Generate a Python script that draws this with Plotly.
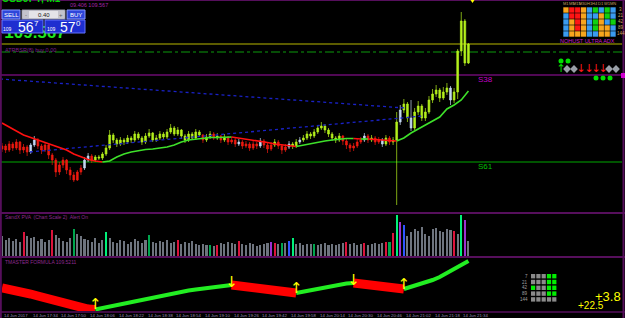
import plotly.graph_objects as go

W, H = 625, 318


def PX(x):
    return x / W


def PY(y):
    return 1 - y / H


# ---------------- data ----------------
bar_minutes = list(range(0, 262, 2))          # minutes after 17:18, one bar per 2 minutes
first_open = 109.462
close = [109.465, 109.461, 109.467, 109.463, 109.469, 109.461, 109.464, 109.459, 109.466, 109.471,
         109.465, 109.461, 109.466, 109.456, 109.451, 109.439, 109.446, 109.451, 109.441, 109.436,
         109.431, 109.439, 109.443, 109.451, 109.455, 109.451, 109.454, 109.453, 109.457, 109.463,
         109.476, 109.471, 109.467, 109.471, 109.469, 109.473, 109.471, 109.477, 109.473, 109.469,
         109.475, 109.478, 109.471, 109.473, 109.477, 109.474, 109.479, 109.483, 109.477, 109.481,
         109.475, 109.471, 109.477, 109.473, 109.479, 109.476, 109.471, 109.474, 109.477, 109.473,
         109.475, 109.471, 109.474, 109.469, 109.471, 109.467, 109.469, 109.465, 109.467, 109.463,
         109.467, 109.465, 109.470, 109.466, 109.462, 109.466, 109.469, 109.465, 109.461, 109.464,
         109.467, 109.465, 109.469, 109.471, 109.473, 109.477, 109.475, 109.479, 109.483, 109.485,
         109.481, 109.477, 109.473, 109.471, 109.475, 109.470, 109.466, 109.463, 109.465, 109.469,
         109.471, 109.475, 109.471, 109.473, 109.469, 109.471, 109.467, 109.473, 109.469, 109.471,
         109.489, 109.501, 109.507, 109.493, 109.483, 109.499, 109.505, 109.493, 109.499, 109.511,
         109.517, 109.521, 109.513, 109.519, 109.523, 109.511, 109.519, 109.560, 109.590, 109.548,
         109.567]
high = [109.468, 109.467, 109.470, 109.469, 109.472, 109.470, 109.467, 109.466, 109.468, 109.475,
        109.473, 109.467, 109.469, 109.467, 109.458, 109.453, 109.449, 109.454, 109.452, 109.444,
        109.439, 109.441, 109.446, 109.454, 109.458, 109.457, 109.456, 109.456, 109.459, 109.466,
        109.481, 109.478, 109.473, 109.474, 109.473, 109.476, 109.475, 109.480, 109.479, 109.475,
        109.478, 109.482, 109.479, 109.476, 109.480, 109.479, 109.482, 109.487, 109.485, 109.484,
        109.482, 109.477, 109.480, 109.479, 109.482, 109.481, 109.477, 109.477, 109.480, 109.479,
        109.478, 109.476, 109.477, 109.475, 109.474, 109.473, 109.472, 109.471, 109.470, 109.469,
        109.470, 109.469, 109.473, 109.472, 109.468, 109.469, 109.472, 109.471, 109.467, 109.467,
        109.470, 109.469, 109.472, 109.474, 109.476, 109.480, 109.479, 109.482, 109.486, 109.489,
        109.487, 109.483, 109.479, 109.475, 109.478, 109.476, 109.472, 109.468, 109.468, 109.472,
        109.474, 109.478, 109.477, 109.476, 109.475, 109.474, 109.473, 109.476, 109.475, 109.474,
        109.499, 109.506, 109.512, 109.509, 109.511, 109.503, 109.510, 109.507, 109.503, 109.515,
        109.522, 109.526, 109.523, 109.524, 109.528, 109.525, 109.523, 109.562, 109.599, 109.592,
        109.568]
low = [109.459, 109.458, 109.459, 109.460, 109.461, 109.457, 109.458, 109.455, 109.457, 109.464,
       109.462, 109.457, 109.459, 109.452, 109.446, 109.434, 109.436, 109.443, 109.437, 109.431,
       109.429, 109.430, 109.436, 109.441, 109.449, 109.448, 109.449, 109.451, 109.451, 109.455,
       109.461, 109.468, 109.464, 109.465, 109.466, 109.467, 109.468, 109.469, 109.471, 109.466,
       109.467, 109.473, 109.469, 109.469, 109.471, 109.472, 109.472, 109.477, 109.475, 109.475,
       109.472, 109.468, 109.469, 109.471, 109.471, 109.474, 109.468, 109.469, 109.472, 109.471,
       109.471, 109.468, 109.469, 109.466, 109.467, 109.464, 109.465, 109.462, 109.463, 109.460,
       109.461, 109.462, 109.463, 109.463, 109.458, 109.460, 109.464, 109.462, 109.457, 109.459,
       109.462, 109.462, 109.463, 109.467, 109.469, 109.471, 109.472, 109.473, 109.477, 109.481,
       109.478, 109.474, 109.470, 109.468, 109.469, 109.466, 109.462, 109.459, 109.460, 109.463,
       109.467, 109.469, 109.468, 109.469, 109.466, 109.467, 109.464, 109.465, 109.466, 109.466,
       109.406, 109.486, 109.498, 109.489, 109.480, 109.481, 109.496, 109.490, 109.490, 109.497,
       109.508, 109.514, 109.509, 109.511, 109.516, 109.506, 109.508, 109.512, 109.555, 109.545,
       109.547]
light_bars = [8, 9, 23, 24, 66, 72, 80, 83, 101, 106, 111, 114, 125]

volume = [20, 16, 18, 15, 17, 14, 24, 20, 18, 19,
          15, 17, 14, 16, 26, 21, 18, 15, 14, 18,
          27, 22, 20, 17, 16, 14, 18, 13, 16, 24,
          18, 14, 13, 16, 15, 12, 14, 17, 15, 13,
          16, 21, 14, 13, 15, 14, 16, 13, 14, 16,
          12, 14, 13, 15, 12, 11, 12, 11, 11, 10,
          11, 13, 12, 14, 13, 12, 15, 12, 11, 13,
          12, 10, 11, 12, 13, 14, 13, 12, 13, 13,
          15, 18, 12, 13, 11, 12, 12, 12, 11, 12,
          13, 11, 12, 11, 12, 13, 14, 12, 13, 11,
          12, 13, 11, 12, 13, 12, 13, 14, 14, 23,
          41, 34, 31, 20, 24, 27, 25, 29, 22, 20,
          27, 28, 25, 24, 27, 26, 25, 22, 41, 36,
          15]
vol_kind = {6: "down", 14: "down", 20: "up", 29: "climax", 41: "up", 49: "down", 58: "up",
            60: "down", 66: "down", 75: "churn", 76: "down", 78: "up", 80: "blue", 81: "climax",
            87: "up", 96: "down", 101: "down", 107: "down", 108: "up", 109: "down",
            110: "climax", 111: "churn", 112: "blue", 126: "down", 128: "climax", 129: "churn"}

ma_minutes = list(range(0, 262, 4))
ma = [109.488, 109.484, 109.480, 109.476, 109.4735, 109.471, 109.469, 109.466, 109.4635, 109.461,
      109.457, 109.454, 109.4515, 109.450, 109.449, 109.450, 109.454, 109.457, 109.459, 109.4605,
      109.4615, 109.462, 109.463, 109.464, 109.466, 109.469, 109.471, 109.472, 109.473, 109.4735,
      109.4735, 109.474, 109.474, 109.473, 109.472, 109.471, 109.470, 109.4685, 109.467, 109.466,
      109.465, 109.4645, 109.466, 109.467, 109.4685, 109.470, 109.471, 109.472, 109.4725, 109.4725,
      109.472, 109.472, 109.4715, 109.471, 109.4705, 109.470, 109.473, 109.478, 109.482, 109.486,
      109.490, 109.494, 109.502, 109.506, 109.511, 109.520]
osc = [23, 22, 20.5, 18.5, 17, 15, 13, 11, 9, 7,
       5, 3.5, 2, 1.5, 3, 5, 6.5, 8, 9.5, 11,
       12.5, 14, 15, 16, 17.5, 19, 20.5, 21.5, 22.5, 23.5,
       24.5, 25, 26, 25, 24.5, 24, 23, 22.5, 21.5, 20.5,
       19.5, 18, 19.5, 20.5, 21.5, 23, 25, 26.5, 27.5, 28,
       27, 26, 25, 24.5, 24, 23, 22, 24, 26, 28,
       31, 34, 38, 42, 46, 50]

trend_a_x = [-1.1, 224.6]
trend_a_y = [109.532, 109.503]
trend_b_x = [15.6, 234.7]
trend_b_y = [109.459, 109.495]

bid_line = 109.567
ask_line = 109.559
s38_level = 109.536
s61_level = 109.449

tick_minutes = list(range(0, 257, 16))
tick_labels = ["14 Jun 2017", "14 Jun 17:34", "14 Jun 17:50", "14 Jun 18:06", "14 Jun 18:22",
               "14 Jun 18:38", "14 Jun 18:54", "14 Jun 19:10", "14 Jun 19:26", "14 Jun 19:42",
               "14 Jun 19:58", "14 Jun 20:14", "14 Jun 20:30", "14 Jun 20:46", "14 Jun 21:02",
               "14 Jun 21:18", "14 Jun 21:34"]

adx_periods = ["M1", "M5", "M15", "M30", "H1", "H4", "D1", "W1", "MN"]
adx_rows = ["3", "21", "42", "89", "144"]
adx_grid = ["ORROBGBGB", "BRROBBOGB", "BOROBGOBG", "BOROBGOOB", "BOOOBBOOB"]
pva_rows = ["7", "21", "42", "89", "144"]
pva_grid = ["...GG", "...GG", "G..GG", "...GG", "....."]

# ---------------- figure ----------------
fig = go.Figure()

# candles (coloured by position relative to the moving average)
opens = [first_open] + close[:-1]
groups = {"up": [], "down": [], "light": []}
for i in range(len(close)):
    if i in light_bars:
        groups["light"].append(i)
    elif close[i] >= ma[i // 2]:
        groups["up"].append(i)
    else:
        groups["down"].append(i)
cand_cols = {"up": "#b4f01c", "down": "#ee1a10", "light": "#c4d8f2"}
for g, idx in groups.items():
    c = cand_cols[g]
    fig.add_trace(go.Candlestick(
        x=[bar_minutes[i] for i in idx], open=[opens[i] for i in idx],
        high=[high[i] for i in idx], low=[low[i] for i in idx], close=[close[i] for i in idx],
        increasing=dict(line=dict(color=c, width=0.7), fillcolor=c),
        decreasing=dict(line=dict(color=c, width=0.7), fillcolor=c),
        whiskerwidth=0, xaxis="x", yaxis="y", showlegend=False, hoverinfo="skip"))

# dotted trend lines
for tx, ty in ((trend_a_x, trend_a_y), (trend_b_x, trend_b_y)):
    fig.add_trace(go.Scatter(x=tx, y=ty, mode="lines", xaxis="x", yaxis="y",
                             line=dict(color="#1a22c8", width=1.3, dash="dot"), showlegend=False))


def colored_runs(xs, ys):
    runs = []
    for j in range(len(ys) - 1):
        rising = ys[j + 1] >= ys[j]
        if runs and runs[-1][0] == rising:
            runs[-1][1].append(xs[j + 1])
            runs[-1][2].append(ys[j + 1])
        else:
            runs.append((rising, [xs[j], xs[j + 1]], [ys[j], ys[j + 1]]))
    return runs


for rising, rx, ry in colored_runs(ma_minutes, ma):
    fig.add_trace(go.Scatter(x=rx, y=ry, mode="lines", xaxis="x", yaxis="y",
                             line=dict(color="#3ee02a" if rising else "#ff1010", width=1.6),
                             showlegend=False))

# volume
kind_cols = {"down": "#dc143c", "up": "#00a64e", "climax": "#00f07a", "churn": "#9b30d0",
             "blue": "#2f55ff"}
vcols = [kind_cols.get(vol_kind.get(i), "#6e747e") for i in range(len(volume))]
fig.add_trace(go.Bar(x=bar_minutes, y=volume, marker=dict(color=vcols, line=dict(width=0)),
                     width=1.15, xaxis="x2", yaxis="y2", showlegend=False))

# oscillator
for rising, rx, ry in colored_runs(ma_minutes, osc):
    fig.add_trace(go.Scatter(x=rx, y=ry, mode="lines", xaxis="x3", yaxis="y3",
                             line=dict(color="#22ee22" if rising else "#ff0000",
                                       width=4 if rising else 9),
                             showlegend=False))
ax, ay, at = [], [], []
for k in range(1, len(osc) - 1):
    if osc[k] > osc[k - 1] and osc[k] > osc[k + 1]:
        ax.append(ma_minutes[k]); ay.append(osc[k] + 2); at.append("↓")
    elif osc[k] < osc[k - 1] and osc[k] < osc[k + 1]:
        ax.append(ma_minutes[k]); ay.append(osc[k] + 4); at.append("↑")
fig.add_trace(go.Scatter(x=ax, y=ay, mode="text", text=at, xaxis="x3", yaxis="y3",
                         textfont=dict(color="#ffff00", size=15, family="DejaVu Sans"),
                         cliponaxis=False, showlegend=False))

# overlay (pixel space) decorations
fig.add_trace(go.Scatter(x=[35], y=[34], mode="text", text=["<b>109.567</b>"], xaxis="x4", yaxis="y4",
                         textfont=dict(color="#1ee81e", size=17, family="Liberation Sans"),
                         showlegend=False))
fig.add_trace(go.Scatter(x=[561, 568, 596, 603, 610], y=[61, 61, 78, 78, 78], mode="markers",
                         marker=dict(color="#00e000", size=5), xaxis="x4", yaxis="y4",
                         showlegend=False))
fig.add_trace(go.Scatter(x=[567, 574, 609, 616], y=[69, 69, 69, 69], mode="markers",
                         marker=dict(color="#9aa0a8", size=6, symbol="diamond"),
                         xaxis="x4", yaxis="y4", showlegend=False))
fig.add_trace(go.Scatter(x=[561], y=[69], mode="text", text=["↑"], xaxis="x4", yaxis="y4",
                         textfont=dict(color="#00e000", size=11, family="DejaVu Sans"),
                         showlegend=False))
fig.add_trace(go.Scatter(x=[581, 589, 596, 603], y=[69, 69, 69, 69], mode="text",
                         text=["↓"] * 4, xaxis="x4", yaxis="y4",
                         textfont=dict(color="#ff1a1a", size=11, family="DejaVu Sans"),
                         showlegend=False))

# ---------------- shapes ----------------
BORDER = "#560f5c"
shapes = []


def rect(x0, y0, x1, y1, fill, line=None, lw=0):
    return dict(type="rect", xref="paper", yref="paper", x0=PX(x0), x1=PX(x1),
                y0=PY(y1), y1=PY(y0), fillcolor=fill,
                line=dict(color=line or fill, width=lw), layer="above")


# price levels
for lvl, col, dash in ((bid_line, "#b8b800", "solid"), (ask_line, "#0c9a0c", "dashdot"),
                       (s38_level, "#a010a8", "solid"), (s61_level, "#00a800", "solid")):
    shapes.append(dict(type="line", xref="paper", yref="y", x0=PX(1), x1=PX(622), y0=lvl, y1=lvl,
                       line=dict(color=col, width=1.2, dash=dash), layer="below"))

# borders
for y, w in ((0.5, 1), (213, 2), (257, 2), (312, 1.5)):
    shapes.append(dict(type="line", xref="paper", yref="paper", x0=0, x1=1, y0=PY(y), y1=PY(y),
                       line=dict(color=BORDER, width=w), layer="above"))
for x in (0.8, 623.5):
    shapes.append(dict(type="line", xref="paper", yref="paper", x0=PX(x), x1=PX(x), y0=0, y1=1,
                       line=dict(color=BORDER, width=2), layer="above"))

# one-click trading panel
shapes += [
    rect(2, 10, 20, 19, "#2e46da", "#8898ff", 1),
    rect(22, 10, 65, 19, "#e4e4e8", "#9090a0", 1),
    rect(23, 11, 29, 18, "#c4c4cc"),
    rect(58, 11, 64, 18, "#c4c4cc"),
    rect(67, 10, 85, 19, "#2e46da", "#8898ff", 1),
    rect(2, 20, 43, 33, "#1e2ed0", "#6474ff", 1),
    rect(45, 20, 85, 33, "#1e2ed0", "#6474ff", 1),
]

# ADX grid
gcol = {"O": "#f7a51e", "R": "#ff1414", "B": "#3a9bf0", "G": "#10d010"}
cw, ch = 53 / 9, 6
for r, row in enumerate(adx_grid):
    for c, ch_ in enumerate(row):
        shapes.append(rect(563 + c * cw + 0.3, 7 + r * ch + 0.3, 563 + (c + 1) * cw - 0.3,
                           7 + (r + 1) * ch - 0.3, gcol[ch_]))

# PVA grid bottom right
for r, row in enumerate(pva_grid):
    for c, ch_ in enumerate(row):
        x0 = 531 + c * 5.3
        y0 = 274 + r * 5.8
        shapes.append(rect(x0, y0, x0 + 4.2, y0 + 4.4, "#00ee00" if ch_ == "G" else "#8a8a8a"))

# small markers
shapes.append(rect(621, 73, 625, 78, "#d000d0"))
shapes.append(dict(type="path", xref="paper", yref="paper",
                   path=f"M {PX(470.5)} {PY(0)} L {PX(474.5)} {PY(0)} L {PX(472.5)} {PY(3)} Z",
                   fillcolor="#ffff00", line=dict(color="#ffff00", width=0), layer="above"))

# ---------------- annotations ----------------
ann = []


def txt(x, y, s, size, color, anchor="center", family=None):
    d = dict(x=PX(x), y=PY(y), xref="paper", yref="paper", text=s, showarrow=False,
             xanchor=anchor, yanchor="middle", font=dict(size=size, color=color))
    if family:
        d["font"]["family"] = family
    return d


ann += [
    txt(31, -1, "<b>USDJPY, M1</b>", 10, "#00d800"),
    txt(68, 5, "09.406 109.567", 5.5, "#a424a8", "left"),
    txt(11, 14.5, "SELL", 6, "#ffffff"),
    txt(43.5, 14.5, "0.40", 6, "#202020"),
    txt(26, 14.5, "-", 6, "#606060"),
    txt(61, 14.5, "+", 6, "#606060"),
    txt(76, 14.5, "BUY", 6, "#ffffff"),
    txt(7.5, 29, "109", 5, "#ffffff"),
    txt(26, 27, "56", 14, "#ffffff"),
    txt(36, 23.5, "7", 8, "#ffffff"),
    txt(51.5, 29, "109", 5, "#ffffff"),
    txt(68, 27, "57", 14, "#ffffff"),
    txt(78.5, 23.5, "0", 8, "#ffffff"),
    txt(3, 49.5, "ATRBSR(8) buy 0.00", 5.5, "#7c1f8c", "left"),
    txt(485, 79.5, "S38", 8, "#c400c8"),
    txt(485, 166, "S61", 8, "#00c000"),
    txt(587, 41, "NOHUST ULTRA ADX", 5.5, "#c81ec8"),
    txt(3, 216.5, "SandX PVA  (Chart Scale 2)  Alert On", 5, "#8e2a8e", "left"),
    txt(3, 261.5, "TMASTER FORMULA 109.5211", 5, "#8e2a8e", "left"),
    txt(608, 296, "+3.8", 13, "#ffff00"),
    txt(591, 305, "+22.5", 10, "#ffff00"),
]
for c, p in enumerate(adx_periods):
    ann.append(txt(563 + (c + 0.5) * cw, 3.5, p, 4, "#c8a060"))
for r, lab in enumerate(adx_rows):
    ann.append(txt(620.5, 10 + r * ch, lab, 4.5, "#d0a060"))
for r, lab in enumerate(pva_rows):
    ann.append(txt(530, 276.2 + r * 5.8, lab, 4.5, "#a0a0a0", "right"))
for m, lab in zip(tick_minutes, tick_labels):
    ann.append(dict(x=m, y=PY(315), xref="x", yref="paper", text=lab, showarrow=False,
                    xanchor="left", yanchor="middle",
                    font=dict(size=4.3, color="#9a8db5", family="Liberation Sans Narrow, Liberation Sans")))

ax_common = dict(visible=False, showgrid=False, zeroline=False, fixedrange=True)
xdom = [PX(2), PX(622)]
xr = [0, 345.6]
fig.update_layout(
    width=W, height=H, margin=dict(l=0, r=0, t=0, b=0),
    paper_bgcolor="#000000", plot_bgcolor="rgba(0,0,0,0)",
    font=dict(family="Liberation Sans, Arial, sans-serif", color="#cccccc"),
    showlegend=False, hovermode=False, bargap=0,
    xaxis=dict(domain=xdom, range=xr, anchor="y", rangeslider=dict(visible=False), **ax_common),
    xaxis2=dict(domain=xdom, range=xr, anchor="y2", **ax_common),
    xaxis3=dict(domain=xdom, range=xr, anchor="y3", **ax_common),
    xaxis4=dict(domain=[0, 1], range=[0, W], anchor="y4", **ax_common),
    yaxis=dict(domain=[PY(212), PY(0)], range=[109.399, 109.611], anchor="x", **ax_common),
    yaxis2=dict(domain=[PY(256), PY(214)], range=[0, 42], anchor="x2", **ax_common),
    yaxis3=dict(domain=[PY(311), PY(258)], range=[0, 53], anchor="x3", **ax_common),
    yaxis4=dict(domain=[0, 1], range=[H, 0], anchor="x4", **ax_common),
    shapes=shapes, annotations=ann,
)

fig.write_html("out.html")
